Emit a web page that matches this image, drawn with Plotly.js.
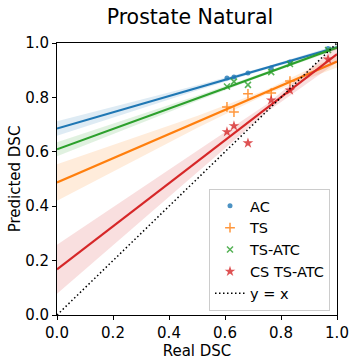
<!DOCTYPE html>
<html>
<head>
<meta charset="utf-8">
<script src="https://cdn.plot.ly/plotly-3.0.1.min.js"></script>
<style>
  html, body { margin: 0; padding: 0; background: #fff; }
  #chart { width: 355px; height: 363px; }
</style>
</head>
<body>
<div id="chart"></div>
<script>
// real DSC of each case, shared by every method
const realDsc = [0.607, 0.632, 0.682, 0.765, 0.832, 0.968];

// predicted DSC per method (null = no point)
const acPred = [0.871, 0.875, 0.890, 0.908, 0.930, 0.980];
const tsPred = [0.765, 0.746, 0.813, 0.816, 0.860, null];
const tsAtcPred = [0.840, 0.858, 0.846, 0.893, 0.923, 0.974];
const csTsAtcPred = [0.673, 0.695, 0.632, 0.790, 0.826, 0.940];

// half width of the confidence band around each fit, read at bandX
const bandX = [0, 0.25, 0.5, 0.75, 1];
const acBand = [0.027, 0.018, 0.010, 0.005, 0.008];
const tsBand = [0.067, 0.044, 0.022, 0.008, 0.022];
const tsAtcBand = [0.026, 0.018, 0.010, 0.005, 0.008];
const csTsAtcBand = [0.090, 0.064, 0.040, 0.015, 0.030];

const diagonal = [0, 1];

const fit = (xs, ys) => {
    const pts = xs.map((x, i) => [x, ys[i]]).filter(p => p[1] !== null);
    const n = pts.length;
    const mx = pts.reduce((s, p) => s + p[0], 0) / n;
    const my = pts.reduce((s, p) => s + p[1], 0) / n;
    let sxy = 0, sxx = 0;
    pts.forEach(p => { sxy += (p[0] - mx) * (p[1] - my); sxx += (p[0] - mx) ** 2; });
    const slope = sxy / sxx;
    const icpt = my - slope * mx;
    return x => icpt + slope * x;
}

const series = [
    {name: 'AC', y: acPred, band: acBand, color: '#1f77b4', rgb: '31,119,180',
     marker: {symbol: 'circle', size: 5}},
    {name: 'TS', y: tsPred, band: tsBand, color: '#ff7f0e', rgb: '255,127,14',
     marker: {symbol: 'cross-thin', size: 7, line: {width: 1.5, color: '#ff7f0e'}}},
    {name: 'TS-ATC', y: tsAtcPred, band: tsAtcBand, color: '#2ca02c', rgb: '44,160,44',
     marker: {symbol: 'x-thin', size: 6, line: {width: 1.5, color: '#2ca02c'}}},
    {name: 'CS TS-ATC', y: csTsAtcPred, band: csTsAtcBand, color: '#d62728', rgb: '214,39,40',
     marker: {symbol: 'star', size: 8, line: {width: 0}}}
];

var data = [];
series.forEach(s => {
    const f = fit(realDsc, s.y);
    const upper = bandX.map((x, i) => f(x) + s.band[i]);
    const lower = bandX.map((x, i) => f(x) - s.band[i]);
    data.push({
        x: bandX.concat(bandX.slice().reverse()),
        y: upper.concat(lower.reverse()),
        type: 'scatter', mode: 'lines', fill: 'toself',
        fillcolor: 'rgba(' + s.rgb + ',0.15)',
        line: {width: 0}, hoverinfo: 'skip', showlegend: false
    });
    data.push({
        x: realDsc, y: s.y, name: s.name,
        type: 'scatter', mode: 'markers',
        marker: Object.assign({color: s.color, opacity: 0.8}, s.marker)
    });
    data.push({
        x: bandX, y: bandX.map(f),
        type: 'scatter', mode: 'lines',
        line: {color: s.color, width: 2.2},
        showlegend: false
    });
});

data.push({
    x: diagonal, y: diagonal, name: 'y = x',
    type: 'scatter', mode: 'lines',
    line: {color: '#000', width: 1.5, dash: '1.5px,2.5px'}
});

const axis = {
    range: [0, 1],
    dtick: 0.2,
    tickformat: '.1f',
    showgrid: false,
    zeroline: false,
    showline: true,
    mirror: true,
    linecolor: '#000',
    linewidth: 1,
    ticks: 'outside',
    ticklen: 4,
    tickwidth: 1,
    tickcolor: '#000',
    tickfont: {size: 15, color: '#000'}
};

var layout = {
    width: 355,
    height: 363,
    margin: {l: 57, r: 18, t: 43, b: 48},
    paper_bgcolor: '#fff',
    plot_bgcolor: '#fff',
    font: {family: 'DejaVu Sans', color: '#000'},
    title: {text: 'Prostate Natural', font: {size: 20.5}, x: 0.535, xanchor: 'center', y: 0.955, yanchor: 'middle'},
    xaxis: Object.assign({}, axis, {title: {text: 'Real DSC', font: {size: 15}, standoff: 0}}),
    yaxis: Object.assign({}, axis, {title: {text: 'Predicted DSC', font: {size: 15}, standoff: 0}}),
    legend: {
        x: 0.975, y: 0.015, xanchor: 'right', yanchor: 'bottom',
        bgcolor: 'rgba(255,255,255,0.8)',
        bordercolor: '#cccccc', borderwidth: 1,
        font: {size: 14.5}
    }
};

Plotly.newPlot(document.querySelector('#chart'), data, layout, {displayModeBar: false});
</script>
</body>
</html>
